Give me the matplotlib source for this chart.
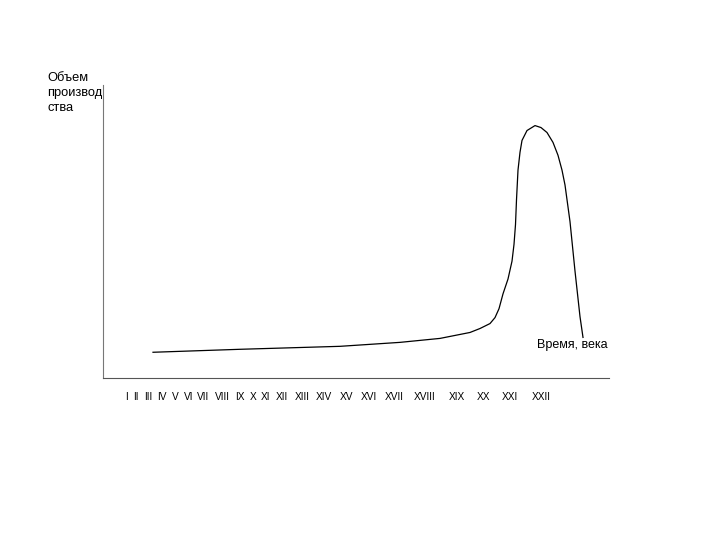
import matplotlib
matplotlib.use("Agg")
import matplotlib.pyplot as plt

plt.rcParams['font.family'] = ['Liberation Sans', 'DejaVu Sans']

# curve (time units along axis, production volume)
time_vals = [50, 137, 237, 297, 337, 367, 377, 387, 392, 396, 400, 405, 409, 411, 412.5,
             413.5, 415, 417, 419, 424, 432, 438, 444, 450, 455, 459, 462, 467, 472,
             477, 480]
volume_vals = [26, 29, 32, 36, 40, 46, 50, 55, 61, 70, 85, 100, 118, 135, 155,
               180, 210, 228, 240, 250, 255, 253, 248, 238, 225, 210, 195, 158, 108,
               62, 41]

century_labels = ["I", "II", "III", "IV", "V", "VI", "VII", "VIII", "IX", "X", "XI",
                  "XII", "XIII", "XIV", "XV", "XVI", "XVII", "XVIII", "XIX", "XX",
                  "XXI", "XXII"]
century_pos = [23, 33, 45, 59, 72, 86, 100, 119, 137, 150, 163, 179, 199, 221,
               244, 266, 291, 322, 354, 381, 407, 438]

fig = plt.figure(figsize=(7.2, 5.4), dpi=100)
ax = fig.add_axes([103/720, 1-378/540, 506/720, 293/540])

ax.plot(time_vals, volume_vals, color="black", linewidth=0.9)

ax.set_xlim(0, 506)
ax.set_ylim(0, 296)

ax.spines["top"].set_visible(False)
ax.spines["right"].set_visible(False)
ax.spines["left"].set_color("#777777")
ax.spines["bottom"].set_color("#555555")

ax.set_xticks(century_pos)
ax.set_xticklabels(century_labels, fontsize=7.3)
ax.tick_params(axis="x", length=0, pad=10)
ax.set_yticks([])

fig.text(47/720, 1-72/540, "Объем\nпроизвод\nства", fontsize=9.3,
         ha="left", va="top", linespacing=1.35)
fig.text(572/720, 1-345/540, "Время, века", fontsize=9, ha="center", va="center")

fig.savefig("out.png")
